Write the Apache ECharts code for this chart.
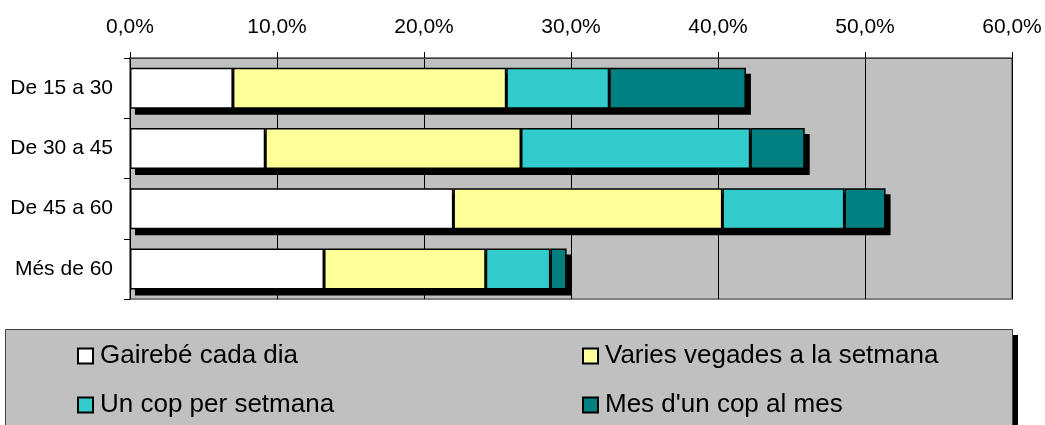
<!DOCTYPE html>
<html>
<head>
<meta charset="utf-8">
<script src="https://cdn.jsdelivr.net/npm/echarts@6/dist/echarts.min.js"></script>
<style>
html,body{margin:0;padding:0;background:#fff;}
#chart{width:1045px;height:425px;}
</style>
</head>
<body>
<div id="chart"></div>
<script>
const categories = ['De 15 a 30', 'De 30 a 45', 'De 45 a 60', 'Més de 60'];
const seriesNames = ['Gairebé cada dia', 'Varies vegades a la setmana', 'Un cop per setmana', "Mes d'un cop al mes"];
const gairebeCadaDia = [7.0, 9.2, 22.0, 13.2];
const variesVegades = [18.6, 17.4, 18.3, 11.0];
const unCopSetmana = [7.0, 15.6, 8.3, 4.4];
const mesDunCop = [9.3, 3.7, 2.8, 1.1];
const xTicks = [0, 10, 20, 30, 40, 50, 60];

const colors = ['#FFFFFF', '#FFFF99', '#33CCCC', '#008080'];
const values = [gairebeCadaDia, variesVegades, unCopSetmana, mesDunCop];
const FONT = 'Liberation Sans, Arial, sans-serif';
const BAR_W = 41;

const totals = categories.map((c, i) => values.reduce((s, arr) => s + arr[i], 0));

const chart = echarts.init(document.getElementById('chart'));

const shadowSeries = {
  type: 'custom',
  name: 'shadow',
  z: 1,
  silent: true,
  encode: { x: 0, y: 1 },
  data: totals.map((t, i) => [t, i]),
  renderItem: function (params, api) {
    const p0 = api.coord([0, api.value(1)]);
    const p1 = api.coord([api.value(0), api.value(1)]);
    return {
      type: 'rect',
      shape: { x: p0[0] + 5, y: p0[1] - BAR_W / 2 + 6, width: p1[0] - p0[0], height: BAR_W },
      style: { fill: '#000' }
    };
  },
  animation: false
};

const series = values.map((d, i) => ({
  name: seriesNames[i],
  type: 'bar',
  stack: 'total',
  data: d,
  barWidth: BAR_W,
  z: 2,
  itemStyle: {
    color: colors[i],
    borderColor: '#000',
    borderWidth: 1.5
  },
  emphasis: { disabled: true },
  animation: false
}));

const legendCommon = {
  orient: 'vertical',
  icon: 'rect',
  padding: 0,
  height: 84,
  itemWidth: 15,
  itemHeight: 15,
  itemGap: 19,
  itemStyle: { borderColor: '#000', borderWidth: 2 },
  textStyle: { fontFamily: FONT, fontSize: 26, color: '#000', lineHeight: 30, padding: [0, 0, 0, 2] },
  selectedMode: false
};

chart.setOption({
  animation: false,
  backgroundColor: '#fff',
  grid: {
    left: 130, right: 33, top: 58, bottom: 126,
    show: true,
    backgroundColor: '#C0C0C0',
    borderColor: '#808080',
    borderWidth: 2
  },
  xAxis: {
    type: 'value',
    position: 'top',
    min: xTicks[0],
    max: xTicks[xTicks.length - 1],
    interval: 10,
    axisLine: { show: true, lineStyle: { color: '#404040', width: 1 } },
    axisTick: { show: true, length: 6, lineStyle: { color: '#000' } },
    axisLabel: {
      fontFamily: FONT, fontSize: 21, color: '#000', margin: 20,
      formatter: v => v.toFixed(1).replace('.', ',') + '%'
    },
    splitLine: { show: true, lineStyle: { color: '#000', width: 1 } }
  },
  yAxis: {
    type: 'category',
    data: categories,
    inverse: true,
    axisLine: { show: true, lineStyle: { color: '#000', width: 1 } },
    axisTick: { show: true, length: 6, lineStyle: { color: '#000' } },
    axisLabel: { fontFamily: FONT, fontSize: 21, color: '#000', margin: 17 }
  },
  legend: [
    Object.assign({}, legendCommon, { left: 77, top: 341, data: [seriesNames[0], seriesNames[2]] }),
    Object.assign({}, legendCommon, { left: 582, top: 341, data: [seriesNames[1], seriesNames[3]] })
  ],
  graphic: [{
    type: 'rect',
    z: -2,
    shape: { x: 10, y: 335, width: 1008, height: 120 },
    style: { fill: '#000' },
    silent: true
  }, {
    type: 'rect',
    z: -1,
    shape: { x: 5.5, y: 329.5, width: 1007, height: 120 },
    style: { fill: '#C0C0C0', stroke: '#404040', lineWidth: 1 },
    silent: true
  }],
  series: [shadowSeries].concat(series)
});
</script>
</body>
</html>
